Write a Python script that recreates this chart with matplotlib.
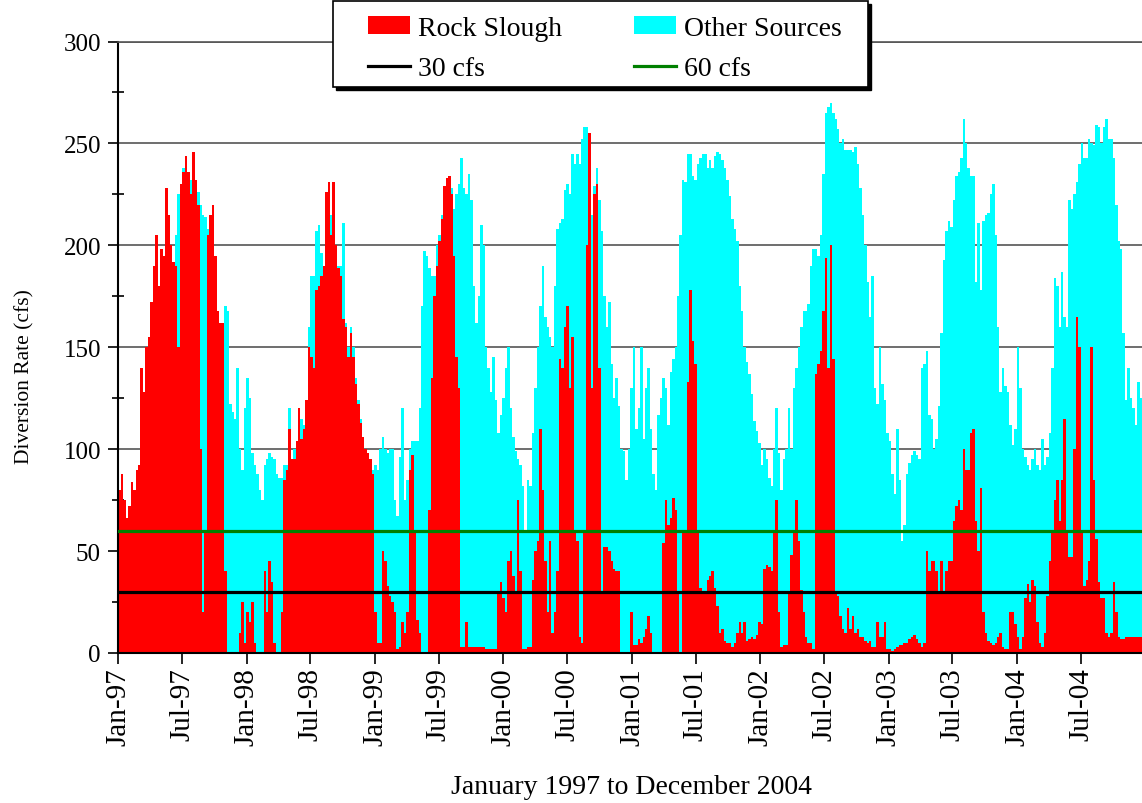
import pandas as pd
import matplotlib
matplotlib.use('Agg')
import matplotlib.pyplot as plt
import matplotlib.dates as mdates
from matplotlib.patches import Patch, Rectangle
from matplotlib.lines import Line2D
from matplotlib.ticker import MultipleLocator

plt.rcParams['font.family'] = ['Liberation Serif', 'DejaVu Serif']

# weekly diversion rate (cfs), one value per week from 1 Jan 1997
# total = top of the cyan area, rock slough = top of the red area
total_cfs = [
    80, 88, 75, 66, 72, 84, 80, 90, 92, 140,
    128, 150, 155, 172, 190, 205, 180, 198, 195, 228,
    215, 200, 192, 205, 225, 230, 238, 244, 236, 232,
    246, 232, 226, 220, 215, 214, 208, 215, 220, 195,
    168, 162, 162, 170, 168, 122, 118, 115, 140, 100,
    90, 120, 135, 125, 98, 92, 88, 80, 75, 92,
    95, 98, 96, 95, 88, 86, 86, 92, 92, 120,
    95, 100, 104, 120, 115, 112, 124, 160, 185, 185,
    207, 210, 196, 190, 226, 231, 215, 231, 200, 190,
    190, 211, 162, 150, 160, 150, 135, 124, 115, 106,
    100, 98, 95, 90, 92, 90, 100, 106, 100, 98,
    100, 100, 75, 67, 96, 120, 75, 85, 100, 104,
    104, 104, 120, 170, 197, 195, 189, 185, 185, 200,
    205, 215, 229, 233, 234, 228, 218, 225, 230, 243,
    228, 225, 235, 222, 180, 162, 175, 210, 200, 150,
    140, 128, 145, 124, 108, 117, 125, 140, 150, 120,
    106, 99, 95, 92, 82, 60, 85, 82, 108, 130,
    150, 170, 190, 165, 160, 155, 150, 180, 208, 211,
    213, 227, 230, 225, 245, 240, 245, 240, 252, 258,
    258, 255, 215, 229, 238, 222, 207, 175, 160, 172,
    142, 125, 135, 121, 100, 99, 85, 100, 130, 150,
    110, 120, 150, 105, 130, 140, 110, 88, 80, 117,
    125, 135, 130, 112, 138, 144, 150, 175, 205, 232,
    231, 245, 245, 234, 232, 240, 243, 245, 245, 238,
    242, 238, 244, 246, 245, 242, 238, 232, 224, 213,
    208, 202, 180, 168, 150, 143, 137, 127, 114, 109,
    103, 92, 100, 95, 86, 82, 100, 120, 98, 80,
    95, 100, 120, 100, 130, 140, 150, 160, 168, 168,
    171, 190, 198, 198, 195, 205, 235, 265, 268, 270,
    265, 262, 257, 250, 252, 247, 247, 247, 246, 248,
    240, 228, 215, 200, 182, 165, 185, 130, 122, 150,
    132, 124, 108, 104, 88, 78, 110, 85, 55, 63,
    88, 93, 97, 99, 97, 95, 140, 142, 148, 117,
    115, 100, 105, 121, 157, 193, 207, 212, 209, 222,
    234, 236, 243, 262, 250, 238, 234, 234, 182, 211,
    178, 212, 215, 216, 225, 230, 205, 160, 128, 140,
    131, 128, 112, 102, 110, 150, 130, 100, 96, 92,
    90, 95, 100, 92, 90, 105, 92, 96, 108, 140,
    184, 180, 160, 187, 165, 160, 222, 218, 225, 231,
    240, 250, 243, 243, 252, 250, 249, 259, 258, 250,
    258, 262, 252, 252, 243, 220, 202, 198, 157, 124,
    140, 125, 120, 112, 133, 125, 122, 120,
]

rock_slough_cfs = [
    80, 88, 75, 66, 72, 84, 80, 90, 92, 140,
    128, 150, 155, 172, 190, 205, 180, 198, 195, 228,
    215, 200, 192, 190, 150, 230, 236, 244, 236, 225,
    246, 232, 220, 100, 20, 60, 205, 215, 220, 195,
    168, 162, 162, 40, 0, 0, 0, 0, 0, 10,
    25, 5, 20, 15, 25, 5, 0, 0, 0, 40,
    20, 45, 35, 5, 0, 0, 20, 85, 90, 110,
    95, 95, 104, 120, 105, 110, 124, 150, 145, 140,
    178, 180, 185, 190, 226, 231, 205, 231, 200, 189,
    185, 164, 160, 145, 157, 145, 132, 122, 113, 106,
    100, 98, 95, 88, 20, 5, 5, 50, 45, 33,
    28, 25, 20, 2, 3, 15, 10, 20, 90, 97,
    60, 16, 10, 0, 0, 0, 70, 135, 175, 190,
    202, 213, 229, 233, 234, 225, 195, 145, 130, 3,
    3, 15, 3, 3, 3, 3, 3, 3, 3, 2,
    2, 2, 2, 2, 30, 35, 27, 20, 45, 50,
    38, 30, 75, 40, 2, 2, 3, 3, 36, 50,
    55, 110, 80, 45, 20, 55, 10, 20, 40, 144,
    140, 160, 170, 130, 155, 60, 55, 8, 5, 60,
    200, 255, 130, 225, 230, 140, 30, 52, 52, 50,
    45, 41, 40, 40, 0, 0, 0, 0, 20, 4,
    4, 7, 5, 8, 12, 18, 10, 0, 0, 0,
    0, 54, 75, 63, 66, 76, 70, 30, 0, 59,
    59, 133, 178, 153, 142, 60, 32, 30, 30, 36,
    38, 40, 32, 23, 10, 12, 6, 5, 5, 3,
    5, 10, 15, 10, 15, 6, 7, 8, 7, 9,
    15, 14, 41, 43, 42, 40, 60, 75, 20, 3,
    4, 4, 30, 48, 60, 75, 55, 31, 20, 8,
    5, 5, 2, 137, 142, 148, 168, 194, 140, 200,
    144, 29, 28, 18, 12, 10, 22, 12, 18, 10,
    12, 8, 8, 6, 5, 6, 3, 3, 15, 8,
    8, 15, 2, 2, 1, 2, 3, 4, 4, 5,
    5, 7, 8, 9, 7, 5, 3, 5, 50, 40,
    45, 45, 40, 30, 45, 30, 40, 45, 45, 65,
    72, 75, 70, 100, 90, 90, 108, 110, 65, 50,
    81, 20, 10, 6, 5, 4, 5, 8, 10, 3,
    2, 2, 20, 20, 14, 8, 2, 8, 27, 34,
    25, 36, 33, 15, 5, 3, 10, 28, 45, 60,
    75, 85, 65, 85, 115, 60, 47, 47, 100, 165,
    150, 60, 33, 36, 45, 150, 85, 56, 35, 27,
    27, 10, 8, 10, 35, 20, 8, 7, 7, 8,
    8, 8, 8, 8, 8, 8, 8, 8,
]

tick_labels = ['Jan-97', 'Jul-97', 'Jan-98', 'Jul-98', 'Jan-99', 'Jul-99',
               'Jan-00', 'Jul-00', 'Jan-01', 'Jul-01', 'Jan-02', 'Jul-02',
               'Jan-03', 'Jul-03', 'Jan-04', 'Jul-04']

weeks = pd.date_range('1997-01-01', periods=len(total_cfs), freq='7D')
x = mdates.date2num(weeks.to_pydatetime())
tick_x = mdates.date2num(pd.date_range('1997-01-01', periods=len(tick_labels), freq='6MS').to_pydatetime())

W, H = 1142, 804
fig = plt.figure(figsize=(W / 100, H / 100), dpi=100)
ax = fig.add_axes([118.3 / W, 150 / H, (1145.7 - 118.3) / W, 611.5 / H])

ax.bar(x, total_cfs, width=7, align='edge', color='#00ffff', linewidth=0, antialiased=False, zorder=2)
ax.bar(x, rock_slough_cfs, width=7, align='edge', color='#ff0000', linewidth=0, antialiased=False, zorder=2)
ax.axhline(60, color='#008000', lw=2.3, zorder=3)
ax.axhline(30, color='black', lw=2.3, zorder=3)

ax.set_xlim(mdates.date2num(pd.Timestamp('1997-01-01')), mdates.date2num(pd.Timestamp('2005-01-01')))
ax.set_ylim(0, 300)

ax.yaxis.set_major_locator(MultipleLocator(50))
ax.yaxis.set_minor_locator(MultipleLocator(25))
ax.yaxis.grid(True, which='major', color='#555555', lw=1.2)
ax.set_axisbelow(True)
ax.tick_params(axis='y', which='major', direction='out', length=7.5, width=1.2, labelsize=18, pad=5)
ax.tick_params(axis='y', which='minor', direction='inout', length=9, width=1.2)

ax.set_xticks(tick_x)
ax.set_xticklabels(tick_labels, rotation=90)
ax.tick_params(axis='x', direction='out', length=8, width=1.2, labelsize=21, pad=2)

ax.spines['right'].set_visible(False)
ax.spines['top'].set_color('#555555')
ax.spines['top'].set_linewidth(1.2)
ax.spines['left'].set_linewidth(1.5)
ax.spines['bottom'].set_linewidth(1.5)

ax.set_xlabel('January 1997 to December 2004', fontsize=20)
ax.xaxis.set_label_coords(0.499, -0.198)
ax.set_ylabel('Diversion Rate (cfs)', fontsize=15.5)
ax.yaxis.set_label_coords(-0.082, 0.453)

# legend box with shadow, drawn over the top of the plot
fig.patches.append(Rectangle((336 / W, 1 - 91 / H), 535 / W, 86 / H, transform=fig.transFigure,
                             facecolor='black', edgecolor='black', zorder=2))
fig.patches.append(Rectangle((333 / W, 1 - 88 / H), 535 / W, 86 / H, transform=fig.transFigure,
                             facecolor='white', edgecolor='black', lw=1.2, zorder=3))

handles = [Patch(facecolor='#ff0000', label='Rock Slough'),
           Line2D([], [], color='black', lw=2.3, label='30 cfs'),
           Patch(facecolor='#00ffff', label='Other Sources'),
           Line2D([], [], color='#008000', lw=2.3, label='60 cfs')]
leg = fig.legend(handles=handles, ncol=2, loc='upper left', bbox_to_anchor=(368 / W, 1 - 17 / H),
                 frameon=False, fontsize=20, borderpad=0, borderaxespad=0,
                 handlelength=1.5, handleheight=0.62, handletextpad=0.3,
                 columnspacing=2.6, labelspacing=0.55)
leg.set_zorder(5)

fig.savefig('out.png', dpi=100, facecolor='white')
